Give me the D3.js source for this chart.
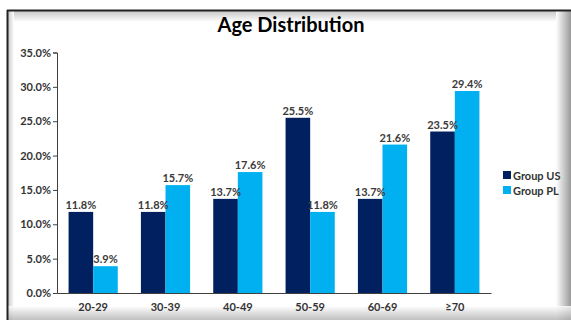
<!DOCTYPE html>
<html lang="en">
<head>
<meta charset="utf-8">
<title>Age Distribution</title>
<script src="https://cdn.jsdelivr.net/npm/d3@7"></script>
<style>
  body { margin: 0; background: #fff; }
  text { font-family: Lato, "Open Sans", sans-serif; }
</style>
</head>
<body>
<script>
// data
var ageGroups = ["20-29", "30-39", "40-49", "50-59", "60-69", "\u226570"];
var groupUS = [11.8, 11.8, 13.7, 25.5, 13.7, 23.5];
var groupPL = [3.9, 15.7, 17.6, 11.8, 21.6, 29.4];
var seriesNames = ["Group US", "Group PL"];
var seriesColors = ["#002060", "#00b0f0"];
var yTicks = [0, 5, 10, 15, 20, 25, 30, 35];

var w = 571, h = 320;
var svg = d3.select("body").append("svg")
    .attr("width", w)
    .attr("height", h);

// frame with shaded edges
var defs = svg.append("defs");
function grad(id, x1, y1, x2, y2, stops) {
  var g = defs.append("linearGradient").attr("id", id)
    .attr("x1", x1).attr("y1", y1).attr("x2", x2).attr("y2", y2);
  stops.forEach(function(s) {
    g.append("stop").attr("offset", s[0]).attr("stop-color", s[1]);
  });
}
grad("gTop", 0, 0, 0, 1, [[0, "#c8c8c8"], [1, "#ffffff"]]);
grad("gLeft", 0, 0, 1, 0, [[0, "#c8c8c8"], [1, "#ffffff"]]);
grad("gRight", 0, 0, 1, 0, [[0, "#ffffff"], [1, "#9a9a9a"]]);
grad("gBottom", 0, 0, 0, 1, [[0, "#ffffff"], [1, "#b0b0b0"]]);

svg.append("rect").attr("x", 8).attr("y", 11).attr("width", w - 8).attr("height", 11).attr("fill", "url(#gTop)");
svg.append("rect").attr("x", 8).attr("y", 11).attr("width", 6).attr("height", h - 11).attr("fill", "url(#gLeft)");
svg.append("rect").attr("x", 556).attr("y", 11).attr("width", 15).attr("height", h - 11).attr("fill", "url(#gRight)");
svg.append("rect").attr("x", 8).attr("y", 306).attr("width", w - 8).attr("height", 14).attr("fill", "url(#gBottom)").attr("opacity", 0.8);
svg.append("line").attr("x1", 7).attr("x2", w).attr("y1", 10.5).attr("y2", 10.5)
   .attr("stroke", "#222").attr("stroke-width", 2);
svg.append("line").attr("x1", 7.5).attr("x2", 7.5).attr("y1", 10).attr("y2", h)
   .attr("stroke", "#222").attr("stroke-width", 2);

// title
svg.append("text")
   .attr("x", 291).attr("y", 32)
   .attr("text-anchor", "middle")
   .attr("font-size", "20px")
   .attr("font-weight", "bold")
   .attr("fill", "#000")
   .text("Age Distribution");

// scales
var xScale = d3.scaleBand()
    .domain(ageGroups)
    .range([57, 491])
    .paddingInner(0.32)
    .paddingOuter(0.16);
var xSub = d3.scaleBand()
    .domain(seriesNames)
    .range([0, xScale.bandwidth()]);
var yScale = d3.scaleLinear()
    .domain([0, 35])
    .range([293, 52.5]);

// y axis
var yAxis = svg.append("g")
    .attr("transform", "translate(57,0)")
    .call(d3.axisLeft(yScale).tickValues(yTicks).tickSize(4).tickPadding(2)
      .tickFormat(function(d) { return d.toFixed(1) + "%"; }));
yAxis.select(".domain").attr("stroke", "#404040");
yAxis.selectAll(".tick line").attr("stroke", "#404040");
yAxis.selectAll(".tick text")
    .attr("font-family", "Lato, sans-serif")
    .attr("font-size", "11px")
    .attr("font-weight", "bold")
    .attr("fill", "#333");

// x axis
var xAxis = svg.append("g")
    .attr("transform", "translate(0,293)")
    .call(d3.axisBottom(xScale).tickSize(0).tickPadding(10).tickSizeOuter(0));
xAxis.select(".domain").attr("stroke", "#404040");
xAxis.selectAll(".tick text")
    .attr("font-family", "Lato, sans-serif")
    .attr("font-size", "11px")
    .attr("font-weight", "bold")
    .attr("fill", "#333");

// bars
var rows = ageGroups.map(function(g, i) {
  return { group: g, values: [groupUS[i], groupPL[i]] };
});
var groups = svg.selectAll("g.grp")
    .data(rows)
    .enter()
    .append("g")
    .attr("class", "grp")
    .attr("transform", function(d) { return "translate(" + xScale(d.group) + ",0)"; });

groups.selectAll("rect")
    .data(function(d) { return d.values.map(function(v, j) { return { s: seriesNames[j], v: v, j: j }; }); })
    .enter()
    .append("rect")
    .attr("x", function(d) { return xSub(d.s); })
    .attr("y", function(d) { return yScale(d.v); })
    .attr("width", xSub.bandwidth())
    .attr("height", function(d) { return yScale(0) - yScale(d.v); })
    .attr("fill", function(d) { return seriesColors[d.j]; });

groups.selectAll("text.val")
    .data(function(d) { return d.values.map(function(v, j) { return { s: seriesNames[j], v: v }; }); })
    .enter()
    .append("text")
    .attr("class", "val")
    .attr("x", function(d) { return xSub(d.s) + xSub.bandwidth() / 2; })
    .attr("y", function(d) { return yScale(d.v) - 3; })
    .attr("text-anchor", "middle")
    .attr("font-size", "11px")
    .attr("font-weight", "bold")
    .attr("fill", "#3a3a3a")
    .text(function(d) { return d.v.toFixed(1) + "%"; });

// legend
var legend = svg.selectAll("g.leg")
    .data(seriesNames)
    .enter()
    .append("g")
    .attr("class", "leg")
    .attr("transform", function(d, i) { return "translate(503," + (171 + i * 15) + ")"; });
legend.append("rect")
    .attr("width", 8).attr("height", 8)
    .attr("fill", function(d, i) { return seriesColors[i]; });
legend.append("text")
    .attr("x", 10).attr("y", 8.5)
    .attr("font-size", "11px")
    .attr("font-weight", "bold")
    .attr("fill", "#333")
    .text(function(d) { return d; });
</script>
</body>
</html>
